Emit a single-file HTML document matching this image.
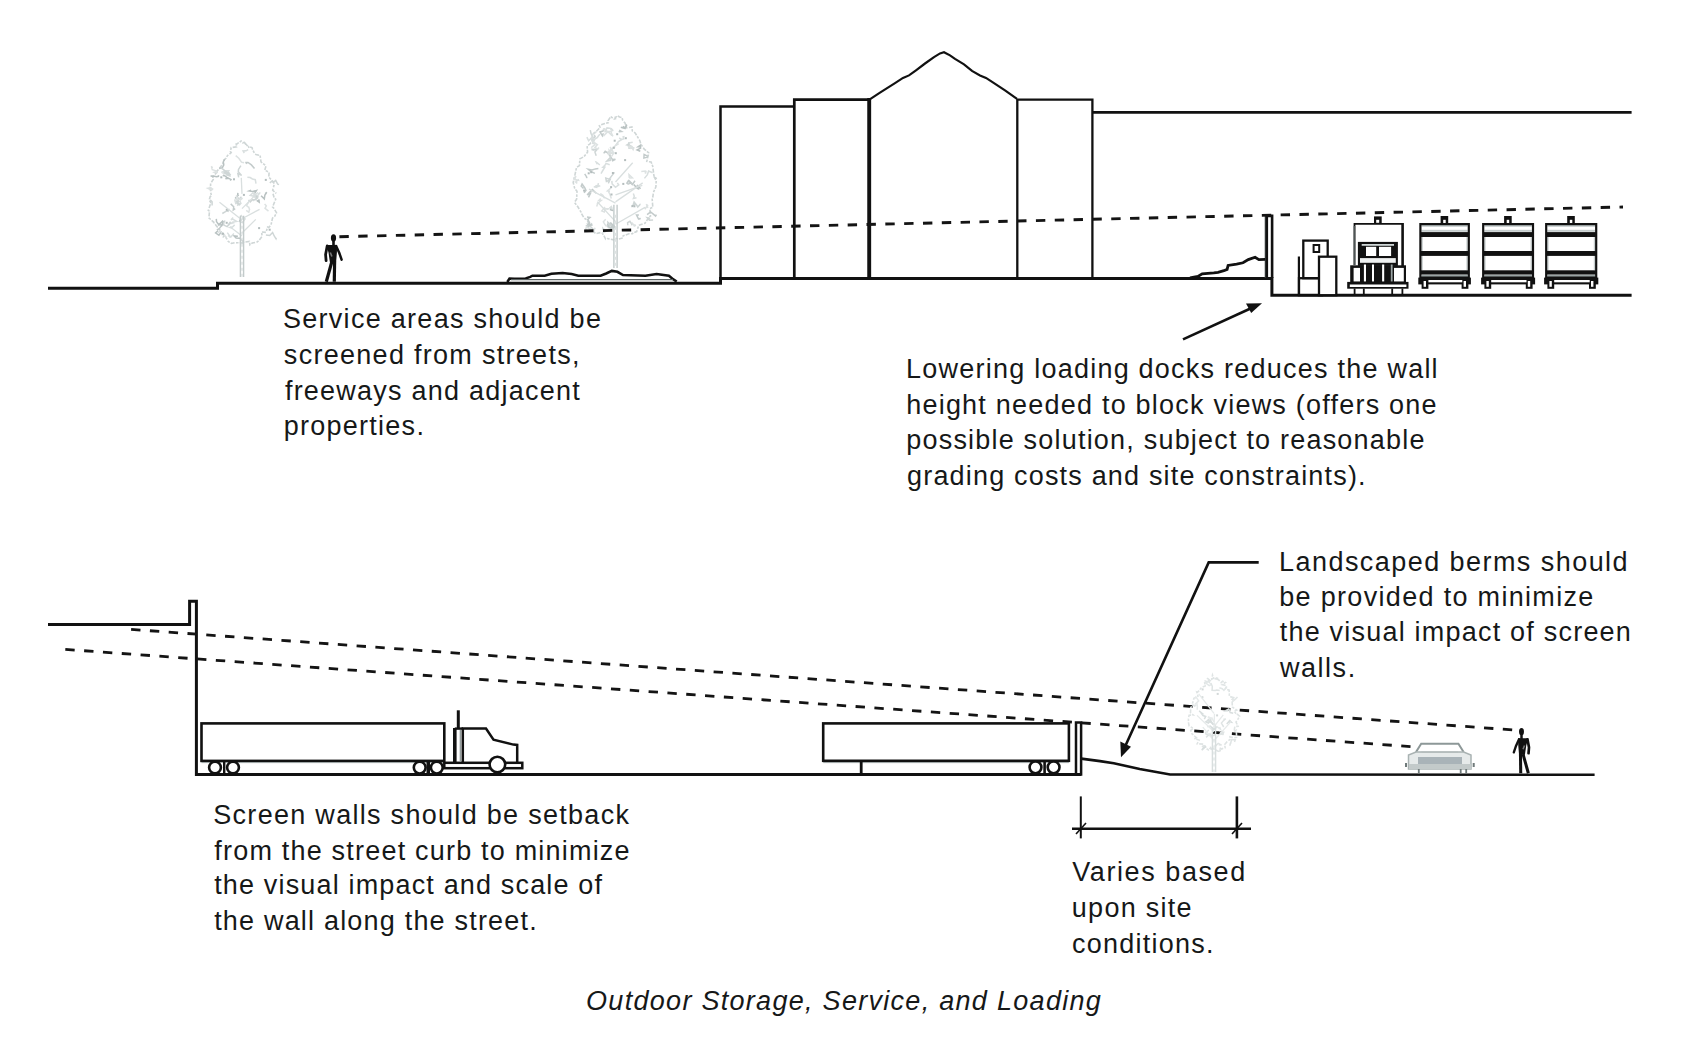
<!DOCTYPE html>
<html><head><meta charset="utf-8">
<style>
html,body{margin:0;padding:0;background:#fff;}
body{width:1699px;height:1057px;overflow:hidden;position:relative;}
svg{position:absolute;left:0;top:0;}
.t{font-family:"Liberation Sans",sans-serif;font-size:27px;letter-spacing:1.2px;fill:#161818;}
.it{font-style:italic;}
</style></head>
<body>
<svg width="1699" height="1057" viewBox="0 0 1699 1057">
<g fill="none" stroke="#111" stroke-linejoin="miter" stroke-linecap="butt">
<polyline stroke-width="3" points="48,288.2 217.5,288.2 217.5,283.3 720.5,283.3 720.5,278.4 1271.9,278.4 1271.9,295.2 1631.6,295.2"/>
<polyline stroke-width="2.5" points="720.5,278 720.5,106.5 794.5,106.5"/>
<polyline stroke-width="2.7" points="794.3,278 794.3,99.6 869,99.6"/>
<line stroke-width="3.9" x1="869.2" y1="98" x2="869.2" y2="278"/>
<polyline stroke-width="2.2" points="870.5,98.8 880,92.6 895,83.1 903,77.9 909,75.4 916,70.3 925,63.5 934,57.1 940,53.4 944,52.2 950,55.4 955,58.9 964,64.3 972,70.9 980,75.4 986,77.9 994,83.1 1005,90.3 1017,98.8"/>
<polyline stroke-width="2.3" points="1017.3,278 1017.3,99.6 1092.4,99.6 1092.4,278"/>
<line stroke-width="2.8" x1="1092.4" y1="112.4" x2="1631.6" y2="112.4"/>
<line stroke-width="1.6" stroke="#4a5252" x1="1265.5" y1="215.7" x2="1265.5" y2="278"/>
<polyline stroke-width="2.6" points="1266.8,278 1266.8,215.9 1272.1,215.9 1272.1,278"/>
</g>
<path d="M273.0,193.7 L274.2,198.0 L275.7,199.2 L272.6,207.0 L273.5,207.8 L276.5,212.7 L274.7,216.3 L272.5,218.1 L271.0,225.0 L268.7,227.5 L267.6,227.0 L266.0,232.4 L261.6,232.0 L262.1,236.4 L259.0,240.4 L256.5,242.3 L252.3,243.0 L249.9,244.8 L249.4,241.4 L242.9,242.4 L244.3,243.7 L239.9,242.8 L236.6,242.8 L233.1,243.0 L231.6,243.5 L229.5,242.3 L227.9,241.0 L224.6,234.9 L223.2,236.7 L221.3,232.2 L218.3,227.8 L217.0,226.7 L212.6,221.0 L214.0,222.3 L208.9,217.9 L209.5,211.1 L208.3,210.4 L210.8,203.0 L209.5,199.1 L210.2,196.6 L211.6,195.9 L210.5,192.0 L210.6,183.5 L213.3,179.4 L212.8,177.4 L216.5,172.5 L215.4,172.4 L218.6,169.4 L223.4,163.2 L223.1,160.8 L225.9,158.3 L227.4,155.7 L231.2,152.7 L230.4,151.5 L231.2,147.5 L236.6,146.9 L236.1,143.0 L237.0,144.8 L236.6,144.2 L241.1,141.0 L242.6,142.8 L244.4,142.4 L246.1,144.8 L244.2,142.2 L249.1,147.8 L248.6,146.6 L252.0,147.6 L252.6,149.5 L254.4,153.1 L255.9,154.5 L260.1,155.4 L261.0,161.9 L261.6,162.4 L266.0,165.8 L264.8,170.2 L269.1,172.2 L268.8,177.1 L272.9,181.4 L274.3,183.9 L272.7,190.3 L276.3,193.3" stroke="#cfd6d6" stroke-width="1.6" fill="none" stroke-dasharray="4 1.2 2.5 1.5"/>
<path d="M224.7,159.3 L223.2,162.0 L223.8,164.9 L222.5,167.5 L219.2,168.5" stroke="#b9c2c2" stroke-width="1.5" fill="none"/>
<path d="M218.7,175.2 L218.4,176.3 L216.7,176.8 L213.0,176.1 L210.6,175.9 L213.3,176.9" stroke="#b9c2c2" stroke-width="1.5" fill="none"/>
<path d="M237.9,236.3 L234.1,236.0 L236.1,238.0 L239.9,238.3 L243.0,241.2" stroke="#b9c2c2" stroke-width="1.5" fill="none"/>
<path d="M261.1,195.7 L264.3,198.9 L264.9,195.0 L266.8,192.3 L265.2,193.6" stroke="#b9c2c2" stroke-width="1.5" fill="none"/>
<path d="M244.3,153.0 L243.1,151.0 L246.0,150.8 L248.2,149.6" stroke="#d9dfdf" stroke-width="1.5" fill="none"/>
<path d="M218.2,230.5 L215.6,232.9 L218.9,235.3 L221.5,231.4" stroke="#b9c2c2" stroke-width="1.5" fill="none"/>
<path d="M227.6,173.0 L224.0,171.6 L226.6,174.4 L228.8,170.8 L225.2,170.7 L221.4,172.4 L221.5,172.3" stroke="#d9dfdf" stroke-width="1.5" fill="none"/>
<path d="M230.3,180.7 L231.0,179.6 L228.5,178.2 L225.5,178.7 L227.3,177.7 L223.9,175.1 L222.9,176.0" stroke="#b9c2c2" stroke-width="1.5" fill="none"/>
<path d="M234.5,222.5 L230.9,223.5 L233.0,222.0 L236.6,221.4 L232.7,219.1 L230.9,219.8 L233.3,217.6" stroke="#d9dfdf" stroke-width="1.5" fill="none"/>
<path d="M265.9,235.1 L269.7,235.5 L272.6,232.5 L274.2,236.0 L276.0,238.8 L276.3,237.8" stroke="#cfd6d6" stroke-width="1.5" fill="none"/>
<path d="M256.7,200.4 L259.2,202.2 L259.0,200.1 L258.1,200.3" stroke="#b9c2c2" stroke-width="1.5" fill="none"/>
<path d="M216.8,229.9 L219.3,228.6 L222.1,224.8 L219.1,224.7 L220.6,222.9" stroke="#c3cbcb" stroke-width="1.5" fill="none"/>
<path d="M258.8,195.6 L255.7,197.6 L259.2,194.0 L257.8,194.6 L260.4,192.5" stroke="#d9dfdf" stroke-width="1.5" fill="none"/>
<path d="M251.2,190.2 L249.2,191.0 L252.7,191.5 L256.5,190.5 L254.3,193.9 L257.1,197.7 L256.4,198.2" stroke="#b9c2c2" stroke-width="1.5" fill="none"/>
<path d="M253.0,196.1 L250.2,195.3 L253.3,192.6 L253.3,192.5 L254.9,196.1 L255.6,198.9 L252.7,201.0" stroke="#d9dfdf" stroke-width="1.5" fill="none"/>
<path d="M247.4,177.3 L250.2,177.6 L252.4,179.0 L255.3,179.7 L256.0,183.6" stroke="#d9dfdf" stroke-width="1.5" fill="none"/>
<path d="M229.9,173.0 L227.5,173.5 L225.4,173.4 L228.3,172.7 L229.9,174.3 L227.5,175.0 L230.7,176.2" stroke="#cfd6d6" stroke-width="1.5" fill="none"/>
<path d="M240.8,215.0 L243.1,218.1 L239.5,221.4 L242.6,222.5 L244.8,219.1 L242.5,217.1 L245.7,219.3" stroke="#d9dfdf" stroke-width="1.5" fill="none"/>
<path d="M222.3,213.5 L225.5,211.6 L228.4,210.1 L227.8,211.9" stroke="#cfd6d6" stroke-width="1.5" fill="none"/>
<path d="M217.9,172.6 L214.2,172.2 L216.1,170.9 L212.3,169.6 L211.4,166.2 L212.5,168.1" stroke="#dde2e2" stroke-width="1.5" fill="none"/>
<path d="M235.1,198.6 L238.2,195.2 L237.7,194.7 L237.9,192.8" stroke="#b9c2c2" stroke-width="1.5" fill="none"/>
<path d="M269.8,182.8 L271.9,181.2 L273.3,182.4 L275.7,180.5 L277.7,184.2 L279.1,184.5" stroke="#cfd6d6" stroke-width="1.5" fill="none"/>
<path d="M252.5,195.3 L254.3,196.7 L254.8,194.2 L256.0,195.2" stroke="#d9dfdf" stroke-width="1.5" fill="none"/>
<path d="M233.9,233.5 L230.8,237.0 L228.0,235.6 L229.7,236.4 L230.2,237.6 L229.8,236.1 L227.3,232.6" stroke="#d9dfdf" stroke-width="1.5" fill="none"/>
<path d="M258.0,198.5 L256.9,196.6 L256.0,199.6 L252.3,199.7 L250.3,201.8 L249.1,200.5 L248.3,200.8" stroke="#cfd6d6" stroke-width="1.5" fill="none"/>
<path d="M232.7,226.7 L229.9,227.5 L231.4,228.0 L234.7,224.9" stroke="#d9dfdf" stroke-width="1.5" fill="none"/>
<path d="M246.2,210.3 L248.8,212.3 L249.5,209.5 L248.7,207.0 L248.9,207.6 L246.5,205.6 L248.8,201.8" stroke="#dde2e2" stroke-width="1.5" fill="none"/>
<path d="M234.6,199.4 L235.7,203.2 L237.2,201.6 L240.1,201.5 L240.9,203.3 L236.9,205.5" stroke="#d9dfdf" stroke-width="1.5" fill="none"/>
<path d="M241.5,196.7 L239.1,199.0 L236.8,201.5 L240.2,205.0 L237.1,203.3 L238.3,200.5 L238.1,197.2" stroke="#cfd6d6" stroke-width="1.5" fill="none"/>
<path d="M212.1,205.5 L212.1,201.7 L210.8,200.3 L209.6,201.8" stroke="#cfd6d6" stroke-width="1.5" fill="none"/>
<path d="M264.6,203.9 L266.3,205.8 L265.0,208.3 L268.5,211.2" stroke="#dde2e2" stroke-width="1.5" fill="none"/>
<path d="M254.5,168.6 L251.4,164.9 L248.0,162.5 L245.3,162.5 L246.9,162.8 L246.3,164.0" stroke="#c3cbcb" stroke-width="1.5" fill="none"/>
<path d="M212.0,190.6 L211.5,190.2 L207.8,188.3 L210.6,187.8 L209.5,187.1 L213.2,189.5 L211.3,188.5" stroke="#dde2e2" stroke-width="1.5" fill="none"/>
<path d="M244.1,162.8 L241.5,162.1 L238.8,158.3 L235.7,155.6" stroke="#dde2e2" stroke-width="1.5" fill="none"/>
<path d="M222.1,226.3 L221.7,225.5 L223.4,221.9 L222.6,221.1 L218.8,224.8 L216.5,221.6 L216.3,218.9" stroke="#b9c2c2" stroke-width="1.5" fill="none"/>
<path d="M217.8,232.9 L220.3,231.2 L224.1,234.7 L226.4,238.4" stroke="#dde2e2" stroke-width="1.5" fill="none"/>
<path d="M226.2,172.7 L227.3,171.5 L224.0,173.0 L227.8,173.7 L223.8,169.9 L220.5,167.3" stroke="#cfd6d6" stroke-width="1.5" fill="none"/>
<path d="M240.9,165.6 L238.5,169.4 L238.3,171.8 L241.6,175.4 L237.9,173.8 L238.7,177.4" stroke="#cfd6d6" stroke-width="1.5" fill="none"/>
<path d="M236.5,195.2 L236.8,197.4 L236.0,200.1 L239.0,199.2 L242.5,198.1 L239.9,200.5" stroke="#dde2e2" stroke-width="1.5" fill="none"/>
<path d="M225.0,220.5 L223.7,223.0 L223.8,225.1 L227.1,226.6 L230.7,223.0 L228.1,225.0 L230.6,221.7" stroke="#cfd6d6" stroke-width="1.5" fill="none"/>
<path d="M230.7,203.9 L233.7,206.8 L233.3,210.0 L235.2,208.7" stroke="#c3cbcb" stroke-width="1.5" fill="none"/>
<rect x="258.1" y="227.1" width="2" height="2" fill="#b4bdbd"/>
<rect x="233.0" y="178.3" width="2" height="2" fill="#b4bdbd"/>
<rect x="239.2" y="219.5" width="2" height="2" fill="#b4bdbd"/>
<rect x="225.8" y="208.7" width="2" height="2" fill="#b4bdbd"/>
<rect x="268.7" y="228.7" width="2" height="2" fill="#b4bdbd"/>
<rect x="222.0" y="232.7" width="2" height="2" fill="#b4bdbd"/>
<rect x="220.3" y="176.3" width="2" height="2" fill="#b4bdbd"/>
<rect x="225.7" y="221.8" width="2" height="2" fill="#b4bdbd"/>
<rect x="242.9" y="193.9" width="2" height="2" fill="#b4bdbd"/>
<rect x="264.8" y="178.9" width="2" height="2" fill="#b4bdbd"/>
<path d="M242.0,233.0 L255.8,219.4" stroke="#d9dfdf" stroke-width="1.3" fill="none"/>
<path d="M242.0,219.9 L219.5,202.2" stroke="#d9dfdf" stroke-width="1.3" fill="none"/>
<path d="M242.0,218.7 L259.6,209.4" stroke="#d9dfdf" stroke-width="1.3" fill="none"/>
<path d="M242.0,236.1 L230.0,226.8" stroke="#d9dfdf" stroke-width="1.3" fill="none"/>
<path d="M242.0,208.6 L257.9,192.4" stroke="#d9dfdf" stroke-width="1.3" fill="none"/>
<path d="M242.0,193.9 L241.3,177.9" stroke="#d9dfdf" stroke-width="1.3" fill="none"/>
<path d="M240.4,215.7 L240.4,277 M243.6,215.7 L243.6,277" stroke="#c3cbcb" stroke-width="1.4" fill="none"/>
<path d="M242.0,225.7 L242.0,277" stroke="#dde2e2" stroke-width="1.5" fill="none" stroke-dasharray="3 3"/>
<path d="M653.9,176.3 L656.2,180.6 L655.9,186.9 L653.4,192.3 L652.9,196.5 L652.2,199.3 L652.8,207.3 L649.8,208.5 L650.5,216.1 L648.2,217.1 L647.9,218.9 L644.9,223.3 L638.7,225.4 L636.7,231.6 L633.2,232.8 L632.5,233.7 L628.9,233.8 L623.2,235.8 L623.1,237.9 L617.9,239.2 L615.3,238.0 L613.6,239.8 L607.6,238.6 L605.7,239.2 L603.5,235.0 L601.6,232.4 L595.8,233.6 L591.6,230.0 L588.2,228.2 L589.2,224.7 L587.3,220.2 L584.2,218.1 L581.5,213.6 L581.0,212.1 L577.7,206.5 L574.4,202.4 L576.6,199.3 L577.0,191.2 L574.7,188.4 L573.2,182.6 L574.6,176.1 L575.0,174.6 L576.6,167.2 L579.5,165.6 L579.8,158.9 L584.1,156.6 L587.6,152.1 L587.1,145.7 L589.8,144.1 L595.1,136.6 L593.5,133.5 L596.1,131.5 L600.1,127.5 L599.4,125.6 L603.3,124.0 L608.3,122.6 L608.1,120.6 L610.8,116.5 L613.8,119.2 L615.5,118.7 L615.0,116.5 L615.4,117.9 L617.0,115.6 L619.6,117.0 L622.2,117.7 L622.5,119.9 L625.0,123.0 L626.8,127.9 L631.9,126.9 L632.3,130.9 L635.2,133.0 L639.9,140.8 L640.3,142.1 L640.7,144.1 L644.2,149.1 L648.8,153.0 L646.8,161.4 L651.1,162.0 L652.7,166.1 L653.9,175.6 L656.6,179.0" stroke="#cfd6d6" stroke-width="1.6" fill="none" stroke-dasharray="4 1.2 2.5 1.5"/>
<path d="M597.2,164.3 L596.1,162.0 L596.4,162.1 L597.5,163.0 L599.8,165.0" stroke="#d9dfdf" stroke-width="1.5" fill="none"/>
<path d="M638.9,214.9 L636.5,214.9 L638.4,218.8 L640.7,218.6 L638.2,219.4" stroke="#c3cbcb" stroke-width="1.5" fill="none"/>
<path d="M611.5,228.3 L615.1,227.2 L612.9,225.0 L610.4,222.6 L611.4,225.8 L614.2,225.7" stroke="#c3cbcb" stroke-width="1.5" fill="none"/>
<path d="M627.8,225.2 L627.6,222.6 L629.9,221.3 L632.3,225.1 L631.5,224.3" stroke="#cfd6d6" stroke-width="1.5" fill="none"/>
<path d="M632.7,142.2 L628.9,142.9 L628.6,144.2 L629.5,144.9 L629.3,148.4" stroke="#d9dfdf" stroke-width="1.5" fill="none"/>
<path d="M619.2,137.8 L621.6,139.6 L618.4,141.6 L615.6,145.5" stroke="#d9dfdf" stroke-width="1.5" fill="none"/>
<path d="M640.5,146.8 L638.2,146.8 L640.3,145.4 L640.6,148.1 L637.1,150.0 L640.3,151.3" stroke="#b9c2c2" stroke-width="1.5" fill="none"/>
<path d="M609.4,226.1 L609.7,226.3 L605.8,225.8 L603.3,221.8 L605.7,219.2" stroke="#dde2e2" stroke-width="1.5" fill="none"/>
<path d="M624.6,136.6 L623.2,136.8 L623.7,139.0 L620.5,139.5" stroke="#d9dfdf" stroke-width="1.5" fill="none"/>
<path d="M584.7,173.9 L586.8,177.2 L586.4,178.1 L586.4,178.1" stroke="#c3cbcb" stroke-width="1.5" fill="none"/>
<path d="M611.9,183.0 L611.9,180.9 L612.1,183.9 L615.5,187.3 L618.7,184.9 L618.2,184.3 L617.4,182.8" stroke="#d9dfdf" stroke-width="1.5" fill="none"/>
<path d="M610.0,147.0 L612.3,150.1 L609.5,151.9 L610.8,149.0 L613.9,152.8 L611.6,156.4" stroke="#dde2e2" stroke-width="1.5" fill="none"/>
<path d="M628.3,148.2 L632.3,147.4 L631.7,146.3 L628.4,145.2 L627.1,144.9 L628.7,144.0 L628.9,142.3" stroke="#cfd6d6" stroke-width="1.5" fill="none"/>
<path d="M585.9,226.2 L589.7,223.0 L587.8,219.4 L590.0,217.5 L587.0,216.9" stroke="#c3cbcb" stroke-width="1.5" fill="none"/>
<path d="M608.3,183.3 L609.9,180.0 L606.4,181.5 L605.8,178.1 L609.3,179.2 L611.7,175.9 L614.5,172.4" stroke="#cfd6d6" stroke-width="1.5" fill="none"/>
<path d="M612.0,161.2 L615.4,159.3 L612.4,159.5 L610.3,156.4 L607.6,152.8 L605.2,151.3 L603.7,153.4" stroke="#c3cbcb" stroke-width="1.5" fill="none"/>
<path d="M611.3,198.5 L610.1,194.7 L608.1,190.8 L610.0,191.2 L607.5,191.0 L611.0,187.9" stroke="#dde2e2" stroke-width="1.5" fill="none"/>
<path d="M627.5,184.4 L631.2,182.8 L629.0,180.7 L626.5,183.7 L628.4,180.8 L632.3,184.7 L635.0,180.8" stroke="#c3cbcb" stroke-width="1.5" fill="none"/>
<path d="M610.2,129.3 L613.2,130.7 L611.4,128.6 L609.8,128.3 L607.0,127.9 L605.1,131.6 L608.9,131.9" stroke="#d9dfdf" stroke-width="1.5" fill="none"/>
<path d="M593.9,143.6 L593.0,143.4 L593.0,141.0 L593.0,137.1 L591.1,133.8 L590.3,130.1" stroke="#cfd6d6" stroke-width="1.5" fill="none"/>
<path d="M600.2,193.8 L600.9,194.0 L602.9,195.3 L604.6,198.3" stroke="#dde2e2" stroke-width="1.5" fill="none"/>
<path d="M635.7,204.0 L632.9,205.8 L634.1,202.1 L636.7,205.3 L637.8,207.1 L640.3,204.3 L640.5,204.3" stroke="#cfd6d6" stroke-width="1.5" fill="none"/>
<path d="M640.5,188.7 L637.2,185.0 L638.2,188.7 L637.3,188.3 L633.7,184.4" stroke="#b9c2c2" stroke-width="1.5" fill="none"/>
<path d="M629.3,178.0 L629.0,174.6 L632.4,177.8 L629.2,178.0" stroke="#dde2e2" stroke-width="1.5" fill="none"/>
<path d="M596.5,131.5 L594.4,133.5 L592.3,134.7 L591.9,137.5 L588.6,140.8 L586.9,137.1" stroke="#d9dfdf" stroke-width="1.5" fill="none"/>
<path d="M596.7,206.5 L597.6,203.6 L597.5,203.5 L601.3,200.3 L599.0,200.2 L600.7,198.5" stroke="#dde2e2" stroke-width="1.5" fill="none"/>
<path d="M612.9,136.4 L611.4,133.1 L611.2,131.4 L607.8,131.5 L611.8,135.4" stroke="#dde2e2" stroke-width="1.5" fill="none"/>
<path d="M593.3,229.2 L589.9,226.0 L591.9,224.0 L590.8,224.9 L591.8,223.1" stroke="#cfd6d6" stroke-width="1.5" fill="none"/>
<path d="M631.1,149.1 L630.2,146.3 L633.8,147.8 L633.1,149.6 L632.4,148.6 L629.3,147.3 L627.9,146.0" stroke="#dde2e2" stroke-width="1.5" fill="none"/>
<path d="M586.4,227.1 L589.6,225.4 L588.6,224.5 L592.6,225.3" stroke="#c3cbcb" stroke-width="1.5" fill="none"/>
<path d="M648.0,207.9 L646.3,204.3 L647.6,205.4 L644.8,209.2" stroke="#dde2e2" stroke-width="1.5" fill="none"/>
<path d="M616.3,144.4 L618.6,143.8 L614.9,145.9 L614.1,148.9 L614.5,146.6 L611.1,150.0" stroke="#dde2e2" stroke-width="1.5" fill="none"/>
<path d="M611.7,207.6 L611.6,210.9 L612.0,208.2 L611.3,206.5 L609.4,208.4 L610.6,207.7" stroke="#d9dfdf" stroke-width="1.5" fill="none"/>
<path d="M600.3,185.7 L597.2,186.8 L593.8,186.8 L596.3,187.2 L595.9,185.9 L598.0,185.3 L598.4,183.2" stroke="#d9dfdf" stroke-width="1.5" fill="none"/>
<path d="M603.4,133.3 L602.4,135.8 L600.0,132.0 L602.9,131.0 L604.9,128.7" stroke="#c3cbcb" stroke-width="1.5" fill="none"/>
<path d="M603.1,130.1 L603.7,128.9 L605.2,129.2 L607.5,132.0 L604.3,135.1 L603.4,136.3" stroke="#dde2e2" stroke-width="1.5" fill="none"/>
<path d="M650.2,218.4 L647.2,217.8 L649.4,220.2 L653.1,220.1" stroke="#cfd6d6" stroke-width="1.5" fill="none"/>
<path d="M607.2,227.1 L611.0,225.1 L607.9,222.3 L608.0,223.8 L611.6,225.6 L612.7,227.7 L612.4,228.1" stroke="#cfd6d6" stroke-width="1.5" fill="none"/>
<path d="M620.8,127.3 L624.5,128.3 L624.7,127.8 L626.8,124.6 L625.2,128.2 L622.8,126.3" stroke="#b9c2c2" stroke-width="1.5" fill="none"/>
<path d="M577.3,183.4 L575.6,182.0 L578.3,179.9 L578.5,180.3 L574.7,179.6 L575.9,176.0 L573.5,179.1" stroke="#dde2e2" stroke-width="1.5" fill="none"/>
<path d="M609.7,164.7 L606.0,163.4 L605.3,164.8 L602.9,167.2 L604.8,167.2 L602.5,171.0 L601.0,173.6" stroke="#d9dfdf" stroke-width="1.5" fill="none"/>
<path d="M612.8,152.8 L609.7,153.8 L610.6,157.0 L610.5,160.3 L606.9,161.0 L610.3,157.5" stroke="#cfd6d6" stroke-width="1.5" fill="none"/>
<path d="M607.3,223.9 L609.2,227.9 L612.7,226.5 L610.1,230.0 L612.1,226.3 L613.4,225.3" stroke="#c3cbcb" stroke-width="1.5" fill="none"/>
<path d="M652.6,172.8 L648.6,171.0 L647.4,174.6 L644.4,178.4" stroke="#d9dfdf" stroke-width="1.5" fill="none"/>
<path d="M606.3,209.4 L608.9,208.8 L605.3,208.6 L604.3,212.0 L601.8,210.9 L605.0,207.1" stroke="#dde2e2" stroke-width="1.5" fill="none"/>
<path d="M596.2,193.3 L592.5,189.6 L589.0,192.9 L587.1,194.9 L590.3,193.6 L588.5,197.3 L589.4,195.4" stroke="#c3cbcb" stroke-width="1.5" fill="none"/>
<path d="M648.0,156.5 L644.1,154.4 L643.9,158.0 L647.6,157.1" stroke="#c3cbcb" stroke-width="1.5" fill="none"/>
<path d="M647.1,214.6 L650.6,212.0 L653.0,213.9 L655.6,216.1 L656.4,214.7" stroke="#c3cbcb" stroke-width="1.5" fill="none"/>
<path d="M612.5,211.1 L612.6,210.2 L609.9,209.5 L611.1,209.3" stroke="#b9c2c2" stroke-width="1.5" fill="none"/>
<path d="M602.2,233.1 L606.1,231.2 L602.7,228.0 L602.7,229.7" stroke="#dde2e2" stroke-width="1.5" fill="none"/>
<path d="M590.5,138.0 L591.5,139.4 L593.4,142.2 L594.8,139.2 L597.5,137.5 L598.0,136.5 L599.9,134.1" stroke="#d9dfdf" stroke-width="1.5" fill="none"/>
<path d="M591.5,149.5 L594.5,150.2 L593.1,149.3 L597.1,149.4 L594.9,151.9 L596.2,155.8" stroke="#cfd6d6" stroke-width="1.5" fill="none"/>
<path d="M594.9,173.4 L591.3,171.8 L588.2,169.3 L592.0,169.9 L595.4,168.9 L598.4,168.5" stroke="#c3cbcb" stroke-width="1.5" fill="none"/>
<path d="M636.5,197.7 L633.4,198.5 L634.3,196.2 L633.3,193.4" stroke="#d9dfdf" stroke-width="1.5" fill="none"/>
<path d="M633.3,225.7 L635.8,225.0 L634.8,225.9 L631.4,222.2" stroke="#dde2e2" stroke-width="1.5" fill="none"/>
<path d="M619.2,130.2 L621.5,131.5 L618.8,131.8 L620.0,131.0" stroke="#c3cbcb" stroke-width="1.5" fill="none"/>
<path d="M608.6,154.9 L607.9,151.3 L609.9,154.4 L609.2,150.5 L611.4,152.9 L612.5,152.1" stroke="#dde2e2" stroke-width="1.5" fill="none"/>
<path d="M646.2,170.7 L645.5,173.7 L645.2,171.0 L641.3,171.4" stroke="#dde2e2" stroke-width="1.5" fill="none"/>
<path d="M584.1,192.9 L586.0,190.3 L584.7,187.6 L582.1,184.1 L581.2,186.2 L583.5,188.6" stroke="#c3cbcb" stroke-width="1.5" fill="none"/>
<path d="M586.9,229.0 L585.5,229.8 L586.5,226.5 L588.2,228.0 L591.4,229.1 L594.2,230.1 L595.1,227.7" stroke="#dde2e2" stroke-width="1.5" fill="none"/>
<path d="M591.2,147.6 L594.8,144.8 L593.6,142.0 L597.4,144.6 L594.9,147.6 L597.7,149.0 L599.0,147.6" stroke="#dde2e2" stroke-width="1.5" fill="none"/>
<rect x="622.3" y="182.9" width="2" height="2" fill="#b4bdbd"/>
<rect x="624.1" y="159.1" width="2" height="2" fill="#b4bdbd"/>
<rect x="610.1" y="186.1" width="2" height="2" fill="#b4bdbd"/>
<rect x="610.5" y="193.5" width="2" height="2" fill="#b4bdbd"/>
<rect x="611.9" y="172.0" width="2" height="2" fill="#b4bdbd"/>
<rect x="583.1" y="189.6" width="2" height="2" fill="#b4bdbd"/>
<rect x="614.8" y="152.2" width="2" height="2" fill="#b4bdbd"/>
<rect x="633.4" y="205.3" width="2" height="2" fill="#b4bdbd"/>
<rect x="612.7" y="146.7" width="2" height="2" fill="#b4bdbd"/>
<rect x="613.7" y="139.7" width="2" height="2" fill="#b4bdbd"/>
<rect x="590.2" y="171.2" width="2" height="2" fill="#b4bdbd"/>
<rect x="587.7" y="172.3" width="2" height="2" fill="#b4bdbd"/>
<rect x="616.2" y="133.2" width="2" height="2" fill="#b4bdbd"/>
<rect x="624.8" y="137.2" width="2" height="2" fill="#b4bdbd"/>
<rect x="631.4" y="205.1" width="2" height="2" fill="#b4bdbd"/>
<path d="M615.5,203.1 L589.0,189.1" stroke="#d9dfdf" stroke-width="1.3" fill="none"/>
<path d="M615.5,194.9 L642.3,185.3" stroke="#d9dfdf" stroke-width="1.3" fill="none"/>
<path d="M615.5,224.2 L645.0,207.4" stroke="#d9dfdf" stroke-width="1.3" fill="none"/>
<path d="M615.5,221.6 L597.3,201.8" stroke="#d9dfdf" stroke-width="1.3" fill="none"/>
<path d="M615.5,201.9 L642.7,182.9" stroke="#d9dfdf" stroke-width="1.3" fill="none"/>
<path d="M615.5,182.0 L632.7,162.8" stroke="#d9dfdf" stroke-width="1.3" fill="none"/>
<path d="M613.9,204.8 L613.9,268 M617.1,204.8 L617.1,268" stroke="#c3cbcb" stroke-width="1.4" fill="none"/>
<path d="M615.5,214.8 L615.5,268" stroke="#dde2e2" stroke-width="1.5" fill="none" stroke-dasharray="3 3"/>
<path d="M507.3,282 L509.5,278.5 L514.5,278.7 L525.7,278.5 L530.2,276.8 L532.4,275.7 L544.7,275.7 L551.4,273.8 L562.6,272.9 L571.6,274 L578.3,275.7 L600.6,275.7 L606.2,273.5 L611.8,270.9 L617.4,271.8 L623,275.1 L645.4,275.7 L656.6,274 L668.9,275.7 L672.2,278.5 L676.7,281.6" fill="none" stroke="#111" stroke-width="2.5"/>
<path d="M511,279.6 L673,279.6" stroke="#5a6262" stroke-width="1.4" fill="none"/>
<path d="M1190,277.9 L1197.9,276.5 L1202.2,273.9 L1213.8,272.8 L1218,272.3 L1223.9,270.7 L1227.1,269.4 L1228.1,265.4 L1236.6,264.1 L1243,262.8 L1248.3,259.6 L1255.1,257.2 L1258.9,259.6 L1265.2,259.3" fill="none" stroke="#111" stroke-width="2.8"/>
<g transform="translate(333.5,282.5)"><ellipse cx="0" cy="-44.6" rx="2.6" ry="3.7" fill="#111"/><rect x="-1.3" y="-42.5" width="2.6" height="6" fill="#111"/><path d="M-7.2,-37.6 L3.6,-37.6 L3.4,-30 L2.6,-20.2 L-3.6,-20.2 L-5,-30 Z" fill="#111"/><path d="M-6.3,-36.5 L-7.9,-28 L-7.4,-21.8" stroke="#111" stroke-width="2.8" fill="none" stroke-linecap="round"/><path d="M2.6,-36.5 L5.8,-29.5 L8.1,-22.8" stroke="#111" stroke-width="2.5" fill="none" stroke-linecap="round"/><path d="M-1.6,-21 L-7.2,-0.8" stroke="#111" stroke-width="3.2" fill="none"/><path d="M1.1,-21 L0.8,-0.8" stroke="#111" stroke-width="3.2" fill="none"/><path d="M-3.2,-30 L-1.6,-26" stroke="#777" stroke-width="1.6" fill="none"/></g>
<line x1="339.4" y1="236.7" x2="1623" y2="207" stroke="#141414" stroke-width="2.9" stroke-dasharray="9.4 9.43"/>
<g fill="none" stroke="#111">
<line x1="1298.9" y1="256.5" x2="1298.9" y2="295" stroke-width="2.2"/>
<rect x="1303.3" y="240.6" width="24.4" height="37.6" stroke-width="2.3"/>
<rect x="1313.6" y="245" width="5.6" height="7" stroke-width="2"/>
<rect x="1299" y="278.2" width="23" height="17" stroke-width="2.3"/>
<rect x="1319" y="256.7" width="17.3" height="38.5" fill="#fff" stroke-width="2.3"/>
</g>
<g>
<path d="M1354.5,265 L1354.5,223.8 L1402.6,223.8" fill="none" stroke="#111" stroke-width="1.8"/><line x1="1354.5" y1="226" x2="1354.5" y2="265" stroke="#4d5555" stroke-width="1.6"/>
<line x1="1402.6" y1="223" x2="1402.6" y2="266" stroke="#111" stroke-width="2.6"/>
<rect x="1374" y="216.4" width="7.7" height="7.4" fill="#111"/>
<rect x="1376.2" y="219.8" width="3" height="3" fill="#fff"/>
<rect x="1357.9" y="241.9" width="40" height="24" fill="#111"/>
<rect x="1361.7" y="244" width="32.3" height="1.8" fill="#cfd6d6"/>
<rect x="1366" y="246.8" width="10.2" height="9.2" fill="#fff"/>
<rect x="1379" y="246.8" width="12.1" height="9.2" fill="#fff"/>
<rect x="1360" y="258.1" width="35.8" height="4.7" fill="#eef0f0"/>
<rect x="1350.2" y="265.3" width="55.8" height="17.2" fill="#111"/>
<rect x="1353.6" y="267.9" width="6.4" height="13.6" fill="#fff"/>
<rect x="1394" y="267.9" width="9.8" height="13.6" fill="#fff"/>
<rect x="1363.9" y="264.5" width="2.1" height="17" fill="#fff"/>
<rect x="1372" y="264.5" width="2" height="17" fill="#fff"/>
<rect x="1382.1" y="264.5" width="2.1" height="17" fill="#fff"/>
<rect x="1390.8" y="264.5" width="1.8" height="17" fill="#9aa4a4"/>
<rect x="1347.2" y="281.9" width="61.3" height="6.8" fill="#111"/>
<rect x="1349.8" y="284.5" width="56.6" height="2.5" fill="#fff"/>
<path d="M1354.6,288.5 V295 M1363.8,288.5 V295 M1392.2,288.5 V295 M1402.4,288.5 V295" stroke="#111" stroke-width="1.8" fill="none"/>
</g>
<rect x="1421.6" y="224.5" width="46.0" height="2.2" fill="#b9c2c2"/><rect x="1421.6" y="229.8" width="46.0" height="2" fill="#c5cdcd"/><rect x="1421.6" y="274.6" width="46.0" height="2.6" fill="#9aa4a4"/><rect x="1421.6" y="237" width="1.2" height="33" fill="#c5cdcd"/><rect x="1466.4" y="237" width="1.2" height="33" fill="#c5cdcd"/><rect x="1420.4" y="224.1" width="48.4" height="53.5" fill="none" stroke="#111" stroke-width="2.2"/><rect x="1440.6" y="216" width="7.6" height="7.6" fill="#111"/><rect x="1443.2" y="219.8" width="2.5" height="3.2" fill="#fff"/><rect x="1420.4" y="232.1" width="48.4" height="4.9" fill="#111"/><rect x="1420.4" y="251.0" width="48.4" height="4.9" fill="#111"/><rect x="1420.4" y="270.3" width="48.4" height="4.2" fill="#111"/><rect x="1418.3" y="277.6" width="52.6" height="6.8" fill="#111"/><rect x="1428.4" y="280" width="33.9" height="2.3" fill="#fff"/><rect x="1421.6" y="283.5" width="6.8" height="5.3" fill="#111"/><rect x="1423.6" y="281" width="2.4" height="5.8" fill="#fff"/><rect x="1461.6" y="283.5" width="6.8" height="5.3" fill="#111"/><rect x="1463.6" y="281" width="2.4" height="5.8" fill="#fff"/>
<rect x="1484.4" y="224.5" width="47.4" height="2.2" fill="#b9c2c2"/><rect x="1484.4" y="229.8" width="47.4" height="2" fill="#c5cdcd"/><rect x="1484.4" y="274.6" width="47.4" height="2.6" fill="#9aa4a4"/><rect x="1484.4" y="237" width="1.2" height="33" fill="#c5cdcd"/><rect x="1530.6" y="237" width="1.2" height="33" fill="#c5cdcd"/><rect x="1483.2" y="224.1" width="49.8" height="53.5" fill="none" stroke="#111" stroke-width="2.2"/><rect x="1504.1" y="216" width="7.6" height="7.6" fill="#111"/><rect x="1506.7" y="219.8" width="2.5" height="3.2" fill="#fff"/><rect x="1483.2" y="232.1" width="49.8" height="4.9" fill="#111"/><rect x="1483.2" y="251.0" width="49.8" height="4.9" fill="#111"/><rect x="1483.2" y="270.3" width="49.8" height="4.2" fill="#111"/><rect x="1481.1" y="277.6" width="54.0" height="6.8" fill="#111"/><rect x="1491.2" y="280" width="35.3" height="2.3" fill="#fff"/><rect x="1484.4" y="283.5" width="6.8" height="5.3" fill="#111"/><rect x="1486.4" y="281" width="2.4" height="5.8" fill="#fff"/><rect x="1525.8" y="283.5" width="6.8" height="5.3" fill="#111"/><rect x="1527.8" y="281" width="2.4" height="5.8" fill="#fff"/>
<rect x="1547.4" y="224.5" width="47.6" height="2.2" fill="#b9c2c2"/><rect x="1547.4" y="229.8" width="47.6" height="2" fill="#c5cdcd"/><rect x="1547.4" y="274.6" width="47.6" height="2.6" fill="#9aa4a4"/><rect x="1547.4" y="237" width="1.2" height="33" fill="#c5cdcd"/><rect x="1593.8" y="237" width="1.2" height="33" fill="#c5cdcd"/><rect x="1546.2" y="224.1" width="50" height="53.5" fill="none" stroke="#111" stroke-width="2.2"/><rect x="1567.2" y="216" width="7.6" height="7.6" fill="#111"/><rect x="1569.8" y="219.8" width="2.5" height="3.2" fill="#fff"/><rect x="1546.2" y="232.1" width="50" height="4.9" fill="#111"/><rect x="1546.2" y="251.0" width="50" height="4.9" fill="#111"/><rect x="1546.2" y="270.3" width="50" height="4.2" fill="#111"/><rect x="1544.1" y="277.6" width="54.2" height="6.8" fill="#111"/><rect x="1554.2" y="280" width="35.5" height="2.3" fill="#fff"/><rect x="1547.4" y="283.5" width="6.8" height="5.3" fill="#111"/><rect x="1549.4" y="281" width="2.4" height="5.8" fill="#fff"/><rect x="1589.0" y="283.5" width="6.8" height="5.3" fill="#111"/><rect x="1591.0" y="281" width="2.4" height="5.8" fill="#fff"/>
<line x1="1183" y1="339.4" x2="1251" y2="308.3" stroke="#111" stroke-width="2.6"/>
<polygon points="1246,303.4 1262,303.2 1251.2,313" fill="#111"/>
<g fill="none" stroke="#111">
<polyline stroke-width="3" points="48,624.4 189.6,624.4 189.6,601.2 196.4,601.2 196.4,774.4 1081.1,774.4"/>
<polyline stroke-width="2.5" points="1076,774.4 1076,722.6 1081.1,722.6 1081.1,775.8"/>
<polyline stroke-width="2.6" points="1081.1,758.6 1100,761.1 1113.8,763.3 1139.7,769.1 1170.1,774.5 1594.6,774.8"/>
<rect x="201.5" y="723.4" width="242.8" height="37.5" stroke-width="2.6"/>
<line x1="201.5" y1="762.6" x2="444" y2="762.6" stroke="#9aa3a3" stroke-width="1"/>
<rect x="823.2" y="723.4" width="245.7" height="37.4" stroke-width="2.6"/>
<line x1="823.2" y1="762.6" x2="1068.9" y2="762.6" stroke="#9aa3a3" stroke-width="1"/>
<line x1="861.2" y1="761" x2="861.2" y2="774.4" stroke-width="2.8"/>
</g>
<circle cx="215" cy="767.5" r="5.9" fill="#fff" stroke="#111" stroke-width="2.6"/>
<circle cx="233" cy="767.5" r="5.9" fill="#fff" stroke="#111" stroke-width="2.6"/>
<rect x="223" y="762" width="2.4" height="12" fill="#111"/>
<circle cx="419.7" cy="767.6" r="5.9" fill="#fff" stroke="#111" stroke-width="2.6"/>
<circle cx="436.8" cy="767.6" r="5.9" fill="#fff" stroke="#111" stroke-width="2.6"/>
<rect x="426.5" y="762" width="3.5" height="12" fill="#111"/>
<circle cx="1035.5" cy="767.3" r="5.9" fill="#fff" stroke="#111" stroke-width="2.6"/>
<circle cx="1053.6" cy="767.3" r="5.9" fill="#fff" stroke="#111" stroke-width="2.6"/>
<rect x="1043.3" y="762" width="2.6" height="12" fill="#111"/>
<g fill="none" stroke="#111">
<rect x="444.3" y="762.8" width="78" height="5.4" fill="#fff" stroke-width="2.5"/>
<path d="M462.8,762.8 V728.6 H486 L493.5,739.7 L513.4,744.6 L517.2,745 V762.8" stroke-width="2.5"/>
<line x1="454.8" y1="728" x2="454.8" y2="763" stroke-width="3.6"/>
<line x1="454.8" y1="728.6" x2="463" y2="728.6" stroke-width="2.4"/>
<line x1="460.3" y1="730" x2="460.3" y2="762" stroke="#8a9494" stroke-width="1.2"/>
<line x1="458.3" y1="710.3" x2="458.3" y2="729" stroke-width="3"/>
</g>
<circle cx="497.4" cy="764.5" r="7.8" fill="#fff" stroke="#111" stroke-width="2.6"/>
<line x1="131.1" y1="629.4" x2="1514" y2="730" stroke="#141414" stroke-width="2.8" stroke-dasharray="9.4 9.44"/>
<line x1="65.3" y1="649.4" x2="1410.5" y2="746.6" stroke="#141414" stroke-width="2.8" stroke-dasharray="9.4 9.465"/>
<path d="M1236.9,713.8 L1239.6,716.2 L1237.7,719.6 L1236.0,722.1 L1238.0,726.2 L1234.8,726.5 L1234.1,731.6 L1236.3,730.3 L1236.6,737.3 L1233.8,737.8 L1230.0,736.9 L1230.4,739.1 L1227.1,741.7 L1224.7,744.4 L1225.1,747.7 L1223.7,747.9 L1221.7,749.0 L1219.6,747.9 L1220.4,752.0 L1217.7,750.9 L1213.1,748.6 L1211.0,747.7 L1211.4,749.1 L1209.9,748.4 L1208.6,750.0 L1201.9,745.8 L1204.7,745.9 L1203.3,744.1 L1197.2,743.7 L1199.2,740.1 L1194.3,738.5 L1197.3,738.5 L1191.9,733.7 L1190.7,730.4 L1193.3,728.5 L1191.4,727.2 L1189.1,725.9 L1188.5,722.7 L1188.4,718.8 L1189.1,715.2 L1193.3,715.0 L1190.5,712.6 L1190.8,707.3 L1194.9,705.7 L1192.2,704.7 L1193.9,698.3 L1198.0,696.1 L1196.9,692.3 L1197.2,692.5 L1199.4,690.3 L1201.4,687.5 L1205.7,685.7 L1205.1,685.8 L1204.4,680.6 L1209.3,682.6 L1207.2,678.2 L1210.8,681.0 L1209.2,680.3 L1213.7,678.0 L1212.5,675.1 L1211.7,679.3 L1213.8,678.1 L1215.0,679.1 L1217.8,677.0 L1216.8,679.9 L1217.4,678.4 L1221.1,682.7 L1222.6,681.3 L1225.4,682.5 L1222.2,684.6 L1225.7,685.5 L1225.7,689.1 L1229.1,690.2 L1229.4,696.4 L1233.8,697.7 L1233.6,700.0 L1232.0,699.9 L1232.4,707.0 L1236.8,710.1 L1234.1,711.3 L1237.0,714.7" stroke="#dfe4e4" stroke-width="1.6" fill="none" stroke-dasharray="4 1.2 2.5 1.5"/>
<path d="M1205.9,747.8 L1205.5,746.7 L1201.8,750.2 L1203.7,747.2" stroke="#d8dede" stroke-width="1.5" fill="none"/>
<path d="M1207.3,726.7 L1210.3,726.0 L1212.6,728.9 L1213.2,729.9" stroke="#e2e7e7" stroke-width="1.5" fill="none"/>
<path d="M1208.6,681.5 L1205.2,682.6 L1209.2,685.6 L1211.0,684.7" stroke="#e2e7e7" stroke-width="1.5" fill="none"/>
<path d="M1211.3,737.0 L1211.5,737.1 L1210.0,733.8 L1206.1,737.4" stroke="#dfe4e4" stroke-width="1.5" fill="none"/>
<path d="M1213.9,721.9 L1211.9,718.0 L1210.3,719.4 L1208.0,716.8 L1211.2,718.1 L1210.7,721.2 L1209.3,722.5" stroke="#e6eaea" stroke-width="1.5" fill="none"/>
<path d="M1220.0,734.6 L1223.1,733.7 L1223.7,732.2 L1220.8,732.2 L1223.5,735.0" stroke="#dfe4e4" stroke-width="1.5" fill="none"/>
<path d="M1199.1,710.9 L1202.5,713.6 L1201.6,713.7 L1203.0,715.5 L1205.7,716.5 L1204.3,719.1" stroke="#d8dede" stroke-width="1.5" fill="none"/>
<path d="M1223.4,719.0 L1224.6,719.5 L1225.7,718.7 L1223.2,720.9 L1221.4,723.1 L1223.7,727.0" stroke="#dfe4e4" stroke-width="1.5" fill="none"/>
<path d="M1211.6,723.0 L1215.3,724.4 L1212.9,724.2 L1210.3,720.3 L1210.1,722.0 L1207.5,720.2" stroke="#d8dede" stroke-width="1.5" fill="none"/>
<path d="M1215.8,744.2 L1214.9,746.6 L1218.2,743.3 L1221.6,745.1 L1218.7,744.7" stroke="#dfe4e4" stroke-width="1.5" fill="none"/>
<path d="M1208.5,718.9 L1208.2,720.1 L1205.8,721.8 L1208.4,723.0 L1210.1,720.7 L1213.3,724.5" stroke="#d8dede" stroke-width="1.5" fill="none"/>
<path d="M1215.7,733.8 L1213.8,735.5 L1209.9,735.5 L1206.2,734.3 L1205.6,732.5 L1208.9,730.2" stroke="#dfe4e4" stroke-width="1.5" fill="none"/>
<path d="M1210.8,683.0 L1212.3,686.3 L1212.1,690.3 L1215.3,690.5 L1216.7,690.0 L1219.7,690.6" stroke="#dfe4e4" stroke-width="1.5" fill="none"/>
<path d="M1225.6,710.2 L1228.3,710.7 L1225.6,710.8 L1228.8,708.8 L1230.2,712.5 L1233.2,713.3" stroke="#d8dede" stroke-width="1.5" fill="none"/>
<path d="M1229.8,745.7 L1230.4,743.3 L1230.7,743.3 L1231.5,739.5 L1235.3,739.7 L1234.5,742.1" stroke="#dfe4e4" stroke-width="1.5" fill="none"/>
<path d="M1213.6,727.1 L1217.0,726.7 L1220.4,729.1 L1219.6,727.1" stroke="#e2e7e7" stroke-width="1.5" fill="none"/>
<path d="M1197.2,709.8 L1197.4,706.6 L1196.8,702.9 L1194.9,704.5 L1198.7,700.8 L1195.9,696.9 L1194.2,698.7" stroke="#e6eaea" stroke-width="1.5" fill="none"/>
<path d="M1219.4,687.7 L1222.2,688.7 L1223.9,690.3 L1227.0,686.5" stroke="#e2e7e7" stroke-width="1.5" fill="none"/>
<path d="M1228.6,722.0 L1231.5,722.3 L1229.3,720.0 L1229.6,720.7 L1226.7,724.0" stroke="#d8dede" stroke-width="1.5" fill="none"/>
<path d="M1232.1,701.9 L1235.2,699.4 L1237.5,697.0 L1234.2,700.1 L1231.3,696.8 L1230.4,696.3" stroke="#e2e7e7" stroke-width="1.5" fill="none"/>
<path d="M1215.9,728.0 L1215.2,729.5 L1211.3,727.1 L1212.8,730.4 L1216.5,727.3" stroke="#d8dede" stroke-width="1.5" fill="none"/>
<rect x="1214.1" y="724.3" width="2" height="2" fill="#d2d8d8"/>
<rect x="1201.6" y="688.4" width="2" height="2" fill="#d2d8d8"/>
<rect x="1216.1" y="714.4" width="2" height="2" fill="#d2d8d8"/>
<rect x="1216.7" y="692.9" width="2" height="2" fill="#d2d8d8"/>
<rect x="1201.4" y="696.2" width="2" height="2" fill="#d2d8d8"/>
<path d="M1214.0,740.5 L1231.2,721.4" stroke="#e6eaea" stroke-width="1.3" fill="none"/>
<path d="M1214.0,713.3 L1198.7,693.9" stroke="#e6eaea" stroke-width="1.3" fill="none"/>
<path d="M1214.0,726.7 L1223.3,714.8" stroke="#e6eaea" stroke-width="1.3" fill="none"/>
<path d="M1214.0,726.9 L1214.5,713.7" stroke="#e6eaea" stroke-width="1.3" fill="none"/>
<path d="M1214.0,731.8 L1197.0,715.4" stroke="#e6eaea" stroke-width="1.3" fill="none"/>
<path d="M1214.0,740.7 L1202.8,727.2" stroke="#e6eaea" stroke-width="1.3" fill="none"/>
<path d="M1212.4,729.6 L1212.4,772 M1215.6,729.6 L1215.6,772" stroke="#d8dede" stroke-width="1.4" fill="none"/>
<path d="M1214.0,739.6 L1214.0,772" stroke="#e2e7e7" stroke-width="1.5" fill="none" stroke-dasharray="3 3"/>
<g fill="none" stroke="#a9b2b2" stroke-width="1.5">
<path d="M1416,752 L1421.2,743.7 L1458.4,743.7 L1463.6,752" stroke="#8d9898" stroke-width="2"/>
<path d="M1408.5,769 V755 L1416,752 H1463.6 L1471,755 V769 Z" fill="#e6eaea"/>
<rect x="1418" y="757" width="44" height="7" fill="#a9b3b8" stroke="none"/>
<rect x="1409" y="764" width="62" height="5" fill="#c3caca" stroke="none"/>
<path d="M1406,763 V767 M1473.7,763 V767" stroke="#6f7a7a" stroke-width="2"/>
<path d="M1418.8,769 V773.5 M1460.7,769 V773.5 M1466.2,769 V773.5" stroke="#707b7b" stroke-width="1.8"/>
<line x1="1421.5" y1="752.3" x2="1458" y2="752.3" stroke="#b5bdbd"/>
</g>
<g transform="translate(1521.5,774) scale(-1,1) scale(0.95)"><ellipse cx="0" cy="-44.6" rx="2.6" ry="3.7" fill="#111"/><rect x="-1.3" y="-42.5" width="2.6" height="6" fill="#111"/><path d="M-7.2,-37.6 L3.6,-37.6 L3.4,-30 L2.6,-20.2 L-3.6,-20.2 L-5,-30 Z" fill="#111"/><path d="M-6.3,-36.5 L-7.9,-28 L-7.4,-21.8" stroke="#111" stroke-width="2.8" fill="none" stroke-linecap="round"/><path d="M2.6,-36.5 L5.8,-29.5 L8.1,-22.8" stroke="#111" stroke-width="2.5" fill="none" stroke-linecap="round"/><path d="M-1.6,-21 L-7.2,-0.8" stroke="#111" stroke-width="3.2" fill="none"/><path d="M1.1,-21 L0.8,-0.8" stroke="#111" stroke-width="3.2" fill="none"/><path d="M-3.2,-30 L-1.6,-26" stroke="#777" stroke-width="1.6" fill="none"/></g>
<polyline points="1258.7,562.4 1208.7,562.4 1123.5,750" fill="none" stroke="#111" stroke-width="2.6"/>
<polygon points="1121,757.2 1120.3,741.5 1131,746.8" fill="#111"/>
<g stroke="#111" fill="none">
<line x1="1072" y1="828.8" x2="1251" y2="828.8" stroke-width="2.4"/>
<line x1="1080.8" y1="796.4" x2="1080.8" y2="838.4" stroke-width="2"/>
<line x1="1236.9" y1="796.4" x2="1236.9" y2="838.4" stroke-width="2.6"/>
<line x1="1076" y1="834" x2="1086" y2="823" stroke-width="1.6"/>
<line x1="1232" y1="834" x2="1242" y2="823" stroke-width="1.6"/>
</g>
<g class="t">
<text x="282.97" y="327.7" style="letter-spacing:1.285px">Service areas should be</text>
<text x="283.86" y="363.5" style="letter-spacing:1.286px">screened from streets,</text>
<text x="284.92" y="399.9" style="letter-spacing:1.235px">freeways and adjacent</text>
<text x="283.64" y="434.5" style="letter-spacing:1.27px">properties.</text>
<text x="906.05" y="377.6" style="letter-spacing:1.231px">Lowering loading docks reduces the wall</text>
<text x="906.19" y="413.9" style="letter-spacing:1.22px">height needed to block views (offers one</text>
<text x="906.24" y="449.4" style="letter-spacing:1.203px">possible solution, subject to reasonable</text>
<text x="907.04" y="484.5" style="letter-spacing:1.181px">grading costs and site constraints).</text>
<text x="1279.05" y="570.8" style="letter-spacing:1.445px">Landscaped berms should</text>
<text x="1279.24" y="606.4" style="letter-spacing:1.316px">be provided to minimize</text>
<text x="1279.74" y="640.6" style="letter-spacing:1.21px">the visual impact of screen</text>
<text x="1279.95" y="677.4" style="letter-spacing:1.536px">walls.</text>
<text x="213.27" y="823.6" style="letter-spacing:1.292px">Screen walls should be setback</text>
<text x="214.32" y="859.6" style="letter-spacing:1.197px">from the street curb to minimize</text>
<text x="214.14" y="894.0" style="letter-spacing:1.163px">the visual impact and scale of</text>
<text x="214.14" y="930.3" style="letter-spacing:1.197px">the wall along the street.</text>
<text x="1072.29" y="880.9" style="letter-spacing:1.575px">Varies based</text>
<text x="1071.84" y="916.8" style="letter-spacing:1.268px">upon site</text>
<text x="1072.04" y="952.5" style="letter-spacing:1.251px">conditions.</text>
<text class="it" x="586.08" y="1010.3" style="letter-spacing:1.289px">Outdoor Storage, Service, and Loading</text>
</g>
</svg>
</body></html>
